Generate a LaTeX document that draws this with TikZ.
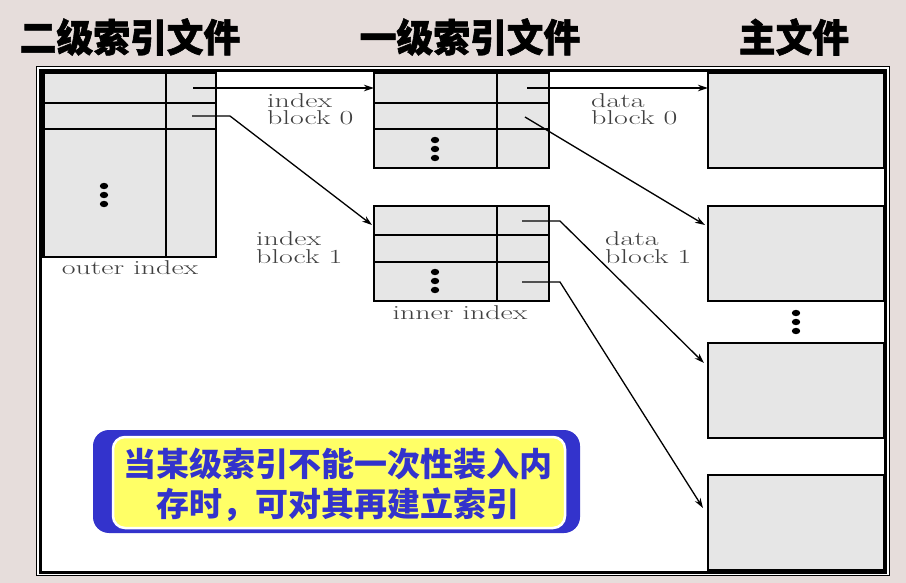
\documentclass[tikz,border=0pt]{standalone}
\usepackage{fontspec}
\usepackage{graphicx}
\usetikzlibrary{arrows.meta}
\newfontfamily\cjk{Noto Sans CJK SC}
\newfontfamily\cjkheavy{Noto Sans CJK SC}[BoldFeatures={FakeBold=1.6}]
\definecolor{bgc}{RGB}{230,221,219}
\definecolor{cellgray}{RGB}{230,230,230}
\definecolor{callblue}{RGB}{51,51,204}
\definecolor{callyellow}{RGB}{255,255,102}
\newcommand{\widetxt}[1]{\scalebox{1.5}[1]{#1}}
\begin{document}
\begin{tikzpicture}[x=1pt,y=-1pt,
  blk/.style={draw=black,fill=cellgray,line width=1.6pt,inner sep=0pt,outer sep=0pt,anchor=north west},
  sep/.style={line width=1.2pt},
  arr/.style={line width=1.3pt,-{Stealth[length=10pt,width=6.5pt]}},
  lbl/.style={font=\fontsize{20}{17}\selectfont,text=black!75,inner sep=0pt,anchor=base west},
  ttl/.style={font=\cjkheavy\bfseries\fontsize{35}{35}\selectfont,inner sep=0pt},
  dot/.style={fill=black}]
\useasboundingbox (0,0) rectangle (906,583);
\fill[bgc] (0,0) rectangle (906,583);
% titles
\node[ttl] (t1) at (130,37) {\scalebox{1.05}[1.1]{二级索引文件}};
\node[ttl] (t2) at (470,37) {\scalebox{1.05}[1.1]{一级索引文件}};
\node[ttl] (t3) at (794,37) {\scalebox{1.05}[1.1]{主文件}};
% frame
\draw[fill=white,line width=0.8pt] (36.5,66.5) rectangle (889,575.5);
\draw[line width=3pt] (40,70.5) rectangle (885,572);
% outer index
\node[blk,minimum width=173pt,minimum height=184pt] (outer) at (43,73) {};
\draw[sep] (43,103) -- (216,103) (43,129) -- (216,129);
\draw[sep] (166,73) -- (166,257);
\draw[line width=3pt] (43,73) -- (43,257);
\node[lbl,anchor=base] (outlbl) at (130,274) {\widetxt{outer index}};
% inner index blocks
\node[blk,minimum width=175pt,minimum height=95pt] (blk0) at (374,73) {};
\draw[sep] (374,103) -- (549,103) (374,129) -- (549,129) (497,73) -- (497,168);
\node[blk,minimum width=175pt,minimum height=95pt] (blk1) at (374,206) {};
\draw[sep] (374,235) -- (549,235) (374,262) -- (549,262) (497,206) -- (497,301);
\node[lbl,anchor=base] (inlbl) at (460,319) {\widetxt{inner index}};
% data blocks
\node[blk,minimum width=176pt,minimum height=95pt] (d0) at (708,73) {};
\node[blk,minimum width=176pt,minimum height=95pt] (d1) at (708,206) {};
\node[blk,minimum width=176pt,minimum height=95pt] (d2) at (708,343) {};
\node[blk,minimum width=176pt,minimum height=95pt] (d3) at (708,475) {};
\draw[line width=3pt] (885,70.5) -- (885,572);
% dots
\foreach \x/\y in {104/186,435/140,435/272,796/313}{
  \foreach \k in {0,9,18}{\fill[dot] (\x,\y+\k) ellipse (4.2pt and 3.2pt);}
}
% labels
\node[lbl] (ib0a) at (267,108) {\widetxt{index}};
\node[lbl] (ib0b) at (267,125) {\widetxt{block 0}};
\node[lbl] (ib1a) at (256,246) {\widetxt{index}};
\node[lbl] (ib1b) at (256,263) {\widetxt{block 1}};
\node[lbl] (db0a) at (591,108) {\widetxt{data}};
\node[lbl] (db0b) at (591,125) {\widetxt{block 0}};
\node[lbl] (db1a) at (605,246) {\widetxt{data}};
\node[lbl] (db1b) at (605,263) {\widetxt{block 1}};
% pointer origins
\coordinate (p1) at (193,88);
\coordinate (p2) at (192,116);
\coordinate (q1) at (527,88);
\coordinate (q2) at (525,117);
\coordinate (r1) at (522,221);
\coordinate (r2) at (522,282);
% connectors
\draw[arr] (p1) -- ([yshift=-15pt]blk0.north west);
\draw[arr] (p2) -- ++(38,0) -- ([xshift=-2pt,yshift=-19pt]blk1.north west);
\draw[arr] (q1) -- ([yshift=-15pt]d0.north west);
\draw[arr] (q2) -- ([xshift=-3pt,yshift=-19pt]d1.north west);
\draw[arr] (r1) -- ++(38,0) -- ([xshift=-4pt,yshift=-20pt]d2.north west);
\draw[arr] (r2) -- ++(38,0) -- ([xshift=-5pt,yshift=-33pt]d3.north west);
% callout
\fill[callblue,rounded corners=16pt] (93,430) rectangle (580,533);
\draw[fill=callyellow,draw=white,line width=2.5pt,rounded corners=12pt] (113,437) rectangle (565,528);
\node[font=\cjk\bfseries\fontsize{33}{40}\selectfont,text=callblue,align=center,inner sep=0pt] (call) at (338,485)
  {当某级索引不能一次性装入内\\存时，可对其再建立索引};
\end{tikzpicture}
\end{document}
